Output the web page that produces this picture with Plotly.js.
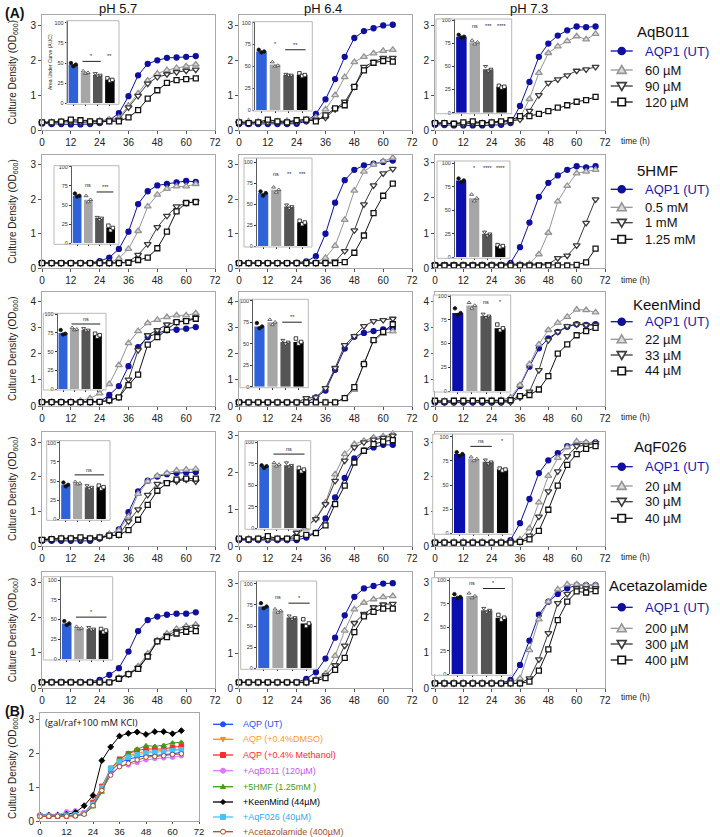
<!DOCTYPE html>
<html>
<head>
<meta charset="utf-8">
<script src="https://cdn.plot.ly/plotly-3.0.1.min.js"></script>
<style>body{margin:0;background:#fff}#fig{width:720px;height:837px}</style>
</head>
<body>
<div id="fig"></div>
<script>
// time points (h)
var hoursA = [0,4,8,12,16,20,24,28,32,36,40,44,48,52,56,60,64];
var hoursB = [0,4,8,12,16,20,24,28,32,36,40,44,48,52,56,60,64,68];

// growth curves: [UT, dose1, dose2, dose3]
var aqb011_ph57 = [
  [0.19,0.17,0.17,0.16,0.16,0.17,0.2,0.28,0.48,0.97,1.57,1.9,2.0,2.07,2.08,2.1,2.12],
  [0.22,0.23,0.25,0.27,0.25,0.25,0.27,0.3,0.35,0.7,1.05,1.42,1.62,1.72,1.78,1.83,1.88],
  [0.2,0.21,0.22,0.24,0.22,0.22,0.24,0.27,0.3,0.65,0.98,1.33,1.52,1.6,1.66,1.7,1.73],
  [0.22,0.22,0.24,0.3,0.28,0.25,0.25,0.25,0.25,0.36,0.57,0.9,1.14,1.35,1.43,1.46,1.48]];
var aqb011_ph64 = [
  [0.17,0.17,0.17,0.17,0.17,0.17,0.18,0.25,0.46,0.88,1.46,2.1,2.64,2.84,2.92,3.0,3.02],
  [0.25,0.25,0.24,0.25,0.25,0.26,0.27,0.3,0.36,0.59,1.0,1.52,1.95,2.1,2.2,2.27,2.3],
  [0.2,0.2,0.2,0.22,0.22,0.22,0.23,0.27,0.3,0.35,0.6,0.81,1.24,1.81,1.95,2.07,2.07],
  [0.22,0.2,0.22,0.3,0.25,0.22,0.28,0.3,0.25,0.42,0.62,0.71,1.24,1.71,1.93,1.98,1.96]];
var aqb011_ph73 = [
  [0.15,0.14,0.13,0.13,0.13,0.13,0.14,0.15,0.2,0.69,1.38,2.1,2.48,2.71,2.86,2.97,2.95,2.97],
  [0.22,0.2,0.18,0.2,0.22,0.2,0.22,0.23,0.25,0.35,0.89,1.64,2.21,2.4,2.55,2.69,2.6,2.76],
  [0.2,0.18,0.18,0.17,0.2,0.2,0.2,0.22,0.25,0.3,0.55,1.0,1.35,1.45,1.57,1.7,1.74,1.81],
  [0.2,0.2,0.18,0.22,0.25,0.2,0.22,0.25,0.28,0.4,0.4,0.46,0.54,0.64,0.71,0.81,0.86,0.95]];

var hmf_ph57 = [
  [0.16,0.15,0.15,0.15,0.15,0.15,0.21,0.31,0.56,1.06,1.86,2.23,2.4,2.44,2.49,2.53,2.5],
  [0.15,0.15,0.15,0.15,0.15,0.15,0.15,0.15,0.29,0.56,1.08,1.79,2.13,2.3,2.37,2.37,2.44],
  [0.15,0.15,0.15,0.15,0.15,0.15,0.15,0.15,0.15,0.19,0.39,0.7,1.19,1.52,1.79,1.89,1.93],
  [0.15,0.15,0.15,0.15,0.15,0.15,0.15,0.15,0.15,0.16,0.24,0.31,0.58,1.06,1.65,1.89,1.92]];
var hmf_ph64 = [
  [0.15,0.15,0.15,0.15,0.15,0.15,0.16,0.2,0.35,1.0,1.9,2.55,2.85,2.98,3.03,3.08,3.12],
  [0.15,0.15,0.15,0.15,0.15,0.15,0.15,0.15,0.18,0.3,0.65,1.4,2.25,2.8,3.0,3.1,3.2],
  [0.15,0.15,0.15,0.15,0.15,0.15,0.15,0.15,0.15,0.15,0.2,0.5,1.1,1.85,2.4,2.75,2.88],
  [0.15,0.15,0.15,0.15,0.15,0.15,0.15,0.15,0.15,0.15,0.15,0.18,0.45,0.95,1.6,2.1,2.45]];
var hmf_ph73 = [
  [0.1,0.1,0.1,0.1,0.1,0.1,0.1,0.1,0.15,0.6,1.3,2.03,2.43,2.64,2.8,2.9,2.87,2.9],
  [0.1,0.1,0.1,0.1,0.1,0.1,0.1,0.1,0.1,0.12,0.13,0.4,1.01,1.9,2.34,2.7,2.75,2.8],
  [0.1,0.1,0.1,0.1,0.1,0.1,0.1,0.1,0.1,0.1,0.1,0.1,0.12,0.29,0.36,0.65,1.29,1.96],
  [0.08,0.08,0.08,0.08,0.08,0.08,0.08,0.08,0.08,0.08,0.08,0.08,0.08,0.08,0.08,0.1,0.17,0.56]];

var keen_ph57 = [
  [0.16,0.16,0.16,0.15,0.15,0.15,0.16,0.42,0.76,1.52,2.25,2.63,2.78,2.89,2.91,2.95,3.01],
  [0.16,0.16,0.16,0.17,0.2,0.29,0.48,0.84,1.56,2.4,2.86,3.16,3.29,3.39,3.46,3.46,3.54],
  [0.15,0.15,0.15,0.15,0.15,0.15,0.16,0.2,0.33,1.01,2.13,2.7,2.89,3.11,3.2,3.27,3.37],
  [0.15,0.15,0.15,0.15,0.15,0.15,0.16,0.22,0.33,0.8,1.2,2.34,2.63,2.91,3.2,3.24,3.33]];
var keen_ph64 = [
  [0.14,0.14,0.14,0.14,0.14,0.14,0.14,0.14,0.33,0.59,1.38,2.19,2.64,2.79,2.86,2.92,2.96],
  [0.14,0.14,0.14,0.14,0.14,0.14,0.14,0.14,0.14,0.14,0.14,0.29,0.62,1.64,2.5,2.75,2.85],
  [0.14,0.14,0.14,0.14,0.14,0.14,0.14,0.3,0.33,0.68,1.45,2.32,2.67,3.05,3.24,3.28,3.33],
  [0.14,0.14,0.14,0.14,0.14,0.14,0.14,0.14,0.14,0.14,0.14,0.3,0.72,1.6,2.51,2.83,3.12]];
var keen_ph73 = [
  [0.13,0.13,0.13,0.13,0.13,0.13,0.13,0.13,0.23,0.76,1.5,2.2,2.58,2.83,3.02,3.12,3.09,3.12],
  [0.2,0.2,0.2,0.2,0.2,0.2,0.22,0.23,0.33,0.8,1.6,2.35,2.9,3.17,3.4,3.68,3.66,3.57],
  [0.15,0.15,0.15,0.15,0.15,0.15,0.15,0.15,0.15,0.33,0.55,1.37,2.51,2.83,3.05,3.12,3.09,3.09],
  [0.2,0.18,0.2,0.2,0.2,0.2,0.2,0.2,0.22,0.38,0.42,0.63,1.14,2.0,2.35,2.7,2.86,2.98]];

var f026_ph57 = [
  [0.15,0.15,0.15,0.15,0.15,0.15,0.22,0.32,0.48,0.98,1.58,1.89,2.01,2.08,2.11,2.13,2.14],
  [0.18,0.2,0.22,0.22,0.22,0.22,0.25,0.35,0.45,0.85,1.51,1.87,2.03,2.11,2.19,2.21,2.23],
  [0.2,0.2,0.2,0.2,0.2,0.2,0.22,0.3,0.32,0.71,1.06,1.48,1.8,1.84,1.87,1.92,1.87],
  [0.18,0.2,0.22,0.22,0.25,0.22,0.25,0.3,0.32,0.46,0.76,1.19,1.6,1.82,1.92,1.95,1.95]];
var f026_ph64 = [
  [0.16,0.16,0.16,0.16,0.16,0.16,0.16,0.23,0.36,0.75,1.32,1.85,2.38,2.59,2.68,2.75,2.75],
  [0.2,0.2,0.2,0.2,0.2,0.2,0.32,0.48,0.75,1.18,1.95,2.5,2.77,2.86,2.95,2.98,3.05],
  [0.18,0.18,0.18,0.18,0.18,0.18,0.36,0.55,0.73,1.14,1.77,2.32,2.68,2.82,2.89,2.94,3.0],
  [0.2,0.18,0.2,0.27,0.2,0.2,0.22,0.3,0.35,0.56,1.14,1.64,2.27,2.59,2.77,2.84,2.88]];
var f026_ph73 = [
  [0.1,0.1,0.1,0.1,0.1,0.1,0.1,0.1,0.17,0.66,1.36,2.11,2.48,2.69,2.89,2.97,2.97,3.0],
  [0.12,0.12,0.12,0.12,0.12,0.12,0.12,0.12,0.12,0.19,0.51,1.26,2.03,2.55,2.86,3.03,3.0,2.98],
  [0.1,0.1,0.1,0.1,0.1,0.1,0.1,0.1,0.1,0.12,0.3,0.85,1.58,2.16,2.6,2.89,2.91,2.98],
  [0.1,0.1,0.1,0.1,0.1,0.1,0.1,0.1,0.1,0.12,0.19,0.44,1.05,1.75,2.35,2.66,2.81,2.89]];

var acz_ph57 = [
  [0.18,0.18,0.18,0.18,0.18,0.18,0.24,0.38,0.57,1.04,1.62,1.93,2.03,2.08,2.11,2.11,2.15],
  [0.17,0.17,0.17,0.17,0.17,0.17,0.17,0.17,0.3,0.42,0.62,0.98,1.36,1.55,1.68,1.76,1.8],
  [0.17,0.17,0.17,0.17,0.17,0.17,0.17,0.17,0.28,0.4,0.58,0.92,1.33,1.5,1.62,1.7,1.74],
  [0.17,0.17,0.17,0.17,0.17,0.17,0.17,0.17,0.27,0.4,0.55,0.9,1.33,1.45,1.55,1.6,1.62]];
var acz_ph64 = [
  [0.17,0.17,0.17,0.17,0.17,0.17,0.17,0.27,0.46,0.85,1.45,2.09,2.62,2.86,2.93,3.0,3.01],
  [0.17,0.17,0.17,0.17,0.17,0.17,0.17,0.17,0.27,0.42,0.93,1.65,2.26,2.45,2.55,2.61,2.64],
  [0.17,0.17,0.17,0.17,0.17,0.17,0.17,0.17,0.25,0.37,0.66,1.22,1.87,2.13,2.32,2.4,2.42],
  [0.17,0.17,0.17,0.17,0.17,0.17,0.17,0.17,0.22,0.29,0.53,0.87,1.61,2.06,2.19,2.28,2.28]];
var acz_ph73 = [
  [0.14,0.14,0.14,0.14,0.14,0.14,0.14,0.14,0.24,0.66,1.35,2.08,2.45,2.67,2.83,2.92,2.92,2.92],
  [0.16,0.16,0.16,0.16,0.16,0.16,0.16,0.16,0.16,0.28,1.08,1.95,2.45,2.8,2.94,2.94,2.92,2.92],
  [0.14,0.14,0.14,0.14,0.14,0.14,0.14,0.14,0.14,0.14,0.28,0.82,1.56,2.41,2.67,2.83,2.83,2.83],
  [0.14,0.14,0.14,0.14,0.14,0.14,0.14,0.14,0.14,0.14,0.19,0.5,1.1,1.93,2.45,2.74,2.71,2.75]];

// inset AUC bars (pH 5.7, 6.4, 7.3)
var auc_aqb011 = [[48,38,35,29],[67,52,40,40],[82,76,47,28]];
var auc_hmf    = [[62,57,33,20],[63,67,47,28],[82,63,25,12]];
var auc_keen   = [[75,80,79,72],[70,75,52,52],[82,90,79,66]];
var auc_f026   = [[45,47,42,42],[72,74,73,68],[82,77,74,66]];
var auc_acz    = [[45,39,38,36],[73,68,60,53],[82,83,68,60]];

// replicate dots on the bars
var rep_aqb011 = [[[50,46,48],[40,37,38],[37,34,35],[31,28,29]],[[69,66,67],[55,50,51],[41,40,40],[42,39,40]],[[84,81,82],[78,74,76],[50,45,47],[29,27,28]]];
var rep_hmf    = [[[65,61,62],[62,54,57],[34,31,33],[23,17,20]],[[65,60,63],[70,64,67],[49,45,47],[30,26,28]],[[84,80,82],[67,60,63],[27,23,25],[13,11,12]]];
var rep_keen   = [[[79,73,74],[82,79,80],[81,78,79],[74,70,72]],[[74,68,70],[78,72,75],[54,50,52],[56,50,52]],[[87,80,82],[93,87,90],[81,77,79],[70,64,66]]];
var rep_f026   = [[[48,43,45],[49,46,47],[44,40,42],[44,40,42]],[[73,70,72],[76,72,74],[76,71,73],[70,66,68]],[[84,80,82],[79,75,77],[76,72,74],[67,65,66]]];
var rep_acz    = [[[48,43,45],[41,38,39],[40,37,38],[38,34,36]],[[77,71,73],[70,66,68],[62,58,60],[58,50,53]],[[85,81,82],[86,81,83],[70,66,68],[63,58,60]]];

// significance marks: [text, first bar, last bar, height, line]
var sig_aqb011 = [[['*',1,2,52,1],['**',3,3,52,0]],[['*',1,1,70,0],['**',2,3,69,1]],[['ns',1,1,88,0],['***',2,2,88,0],['****',3,3,88,0]]];
var sig_hmf    = [[['ns',1,1,70,0],['***',2,3,67,1]],[['ns',1,1,80,0],['**',2,2,80,0],['***',3,3,80,0]],[['*',1,1,90,0],['****',2,2,90,0],['****',3,3,90,0]]];
var sig_keen   = [[['ns',1,3,87,1]],[['**',2,3,75,1]],[['ns',2,2,88,0],['*',3,3,88,0]]];
var sig_f026   = [[['ns',1,3,58,1]],[['ns',1,3,86,1]],[['ns',1,2,90,1],['*',3,3,90,0]]];
var sig_acz    = [[['*',1,3,53,1]],[['ns',1,1,78,0],['*',2,3,77,1]],[['ns',1,1,91,0],['*',2,3,91,1]]];

var drugs = ['AqB011','5HMF','KeenMind','AqF026','Acetazolamide'];
var doses = [['60 µM','90 µM','120 µM'],['0.5 mM','1 mM','1.25 mM'],['22 µM','33 µM','44 µM'],['20 µM','30 µM','40 µM'],['200 µM','300 µM','400 µM']];
var phLabels = ['pH 5.7','pH 6.4','pH 7.3'];

// panel B
var panelB_labels = ['AQP (UT)','AQP (+0.4%DMSO)','AQP (+0.4% Methanol)','+AqB011 (120µM)','+5HMF (1.25mM )','+KeenMind (44µM)','+AqF026 (40µM)','+Acetazolamide (400µM)'];
var panelB_ut   = [0.15,0.15,0.15,0.16,0.17,0.22,0.5,0.98,1.45,1.72,1.82,1.88,1.92,1.93,1.95,1.98,2.02];
var panelB_dmso = [0.14,0.14,0.14,0.15,0.16,0.22,0.52,1.0,1.5,1.78,1.92,2.0,2.05,2.06,2.07,2.1,2.12];
var panelB_meoh = [0.15,0.14,0.14,0.15,0.16,0.23,0.55,1.02,1.55,1.82,1.98,2.08,2.12,2.12,2.12,2.17,2.2];
var panelB_aqb  = [0.18,0.18,0.18,0.27,0.3,0.25,0.5,0.92,1.38,1.6,1.65,1.72,1.8,1.84,1.86,1.88,1.92];
var panelB_hmf  = [0.16,0.15,0.15,0.15,0.16,0.2,0.42,0.85,1.5,1.82,2.0,2.12,2.22,2.2,2.23,2.3,2.32];
var panelB_keen = [0.17,0.17,0.17,0.2,0.25,0.45,0.75,1.78,2.18,2.5,2.58,2.62,2.55,2.63,2.63,2.57,2.66];
var panelB_f026 = [0.16,0.16,0.16,0.17,0.18,0.22,0.48,0.98,1.55,1.75,1.88,1.95,2.0,2.02,2.05,2.07,2.1];
var panelB_acz  = [0.14,0.14,0.14,0.14,0.15,0.2,0.45,0.9,1.35,1.6,1.7,1.8,1.88,1.9,1.92,1.96,1.98];
var panelB_utErr = [0,0,0,0,0,0,0.03,0.05,0.1,0.06,0.08,0.1,0.1,0.1,0.1,0.12,0.1];

var curves = [[aqb011_ph57,aqb011_ph64,aqb011_ph73],[hmf_ph57,hmf_ph64,hmf_ph73],[keen_ph57,keen_ph64,keen_ph73],[f026_ph57,f026_ph64,f026_ph73],[acz_ph57,acz_ph64,acz_ph73]];
var aucs = [auc_aqb011,auc_hmf,auc_keen,auc_f026,auc_acz];
var reps = [rep_aqb011,rep_hmf,rep_keen,rep_f026,rep_acz];
var sigs = [sig_aqb011,sig_hmf,sig_keen,sig_f026,sig_acz];
var panelB = [panelB_ut,panelB_dmso,panelB_meoh,panelB_aqb,panelB_hmf,panelB_keen,panelB_f026,panelB_acz];

// ---- geometry (pixels) ----
var W = 720, H = 837;
function fx(p) { return p / W; }
function fy(p) { return 1 - p / H; }
var FONT = 'Arial, "Liberation Sans", sans-serif';

var colX = [[42,215],[239,412],[435,605]];
var rowY = [[15,130],[155,268.3],[292,406],[432,546],[572,688.3]];
var yTop = [[3.3,3.3,3.3],[3.28,3.28,3.22],[4.35,4.35,4.35],[3.3,3.1,3.3],[3.29,3.33,3.29]];
// inset box: left, right, top, baseline, y-axis x, y of 100
var insetBox = [
  [[66.7,119,20.7,103.3,66.7,22.7],[252.7,312.3,21.7,110,254,22.7],[436,511.7,19,112.7,454,20]],
  [[54,119,165.7,243.3,71,166.7],[244,312,158,246,256,162],[437,510,161,257.3,454,163.5]],
  [[43.3,106,313.3,389,56.7,314.3],[240,308.3,299.3,386.7,252.3,300.7],[433.3,510.7,295,391,450,296]],
  [[46.7,110,440.7,519.3,59.3,442.7],[245,310.7,440.7,528.3,257.3,442],[432.7,513.3,434,533.3,451.7,436.7]],
  [[43.3,112.7,576.7,659,60,580],[240.7,316.7,581,668.3,256,583.7],[431.7,512.3,577.7,674.3,449.3,580]]];
var timeLabelY = [140.7, 280, 416.7, 557.3, 696.7];
var legTitleXY = [[663,32],[657,170],[667,304],[660,446],[658,585]];
var legRowY = [[51,70,86,102],[189.3,207.3,222.7,239.3],[321.7,339.3,355,371],[466.7,486,501.7,518.3],[607.3,628.3,644,660]];
var legBRowY = [724.3,739.3,755,770.7,786.7,802,817,831.7];

var series = [
  {color:'#10109e', fill:'#10109e', symbol:'circle', size:5, key:7},
  {color:'#959595', fill:'#dcdcdc', symbol:'triangle-up', size:6, key:9},
  {color:'#3a3a3a', fill:'#ffffff', symbol:'triangle-down', size:6, key:9},
  {color:'#111111', fill:'#ffffff', symbol:'square', size:5, key:7.5}];

var traces = [], shapes = [], annotations = [];
var layout = {
  width: W, height: H,
  margin: {l:0, r:0, t:0, b:0, pad:0},
  paper_bgcolor: '#ffffff', plot_bgcolor: '#ffffff',
  font: {family: FONT, size: 10, color: '#222'},
  showlegend: false,
  shapes: shapes, annotations: annotations
};

var mainAxis = {showline:true, mirror:true, linecolor:'#a8a8a8', linewidth:1, ticks:'outside', ticklen:3,
  tickcolor:'#555', tickfont:{size:10, color:'#222'}, showgrid:false, zeroline:false, fixedrange:true};
function ax(extra) { return Object.assign({}, mainAxis, extra); }
function sid(n) { return n === 1 ? '' : String(n); }
function label(x, y, text, size, extra) {
  annotations.push(Object.assign({xref:'paper', yref:'paper', x:fx(x), y:fy(y), xanchor:'center', yanchor:'middle',
    text:text, showarrow:false, font:{size:size, color:'#111'}}, extra || {}));
}
// legend key marker drawn as a shape, centred at pixel (cx, cy)
function keyMarker(sym, cx, cy, s, fill, lc, lw) {
  var h = s / 2;
  var base = {xref:'paper', yref:'paper', fillcolor:fill, line:{color:lc, width:lw}, layer:'above'};
  if (sym === 'circle') return Object.assign(base, {type:'circle', x0:fx(cx - h), x1:fx(cx + h), y0:fy(cy + h), y1:fy(cy - h)});
  if (sym === 'square') return Object.assign(base, {type:'rect', x0:fx(cx - h), x1:fx(cx + h), y0:fy(cy + h), y1:fy(cy - h)});
  var pts;
  if (sym === 'triangle-up') pts = [[cx, cy - h], [cx + h, cy + h * 0.75], [cx - h, cy + h * 0.75]];
  else if (sym === 'triangle-down') pts = [[cx, cy + h], [cx + h, cy - h * 0.75], [cx - h, cy - h * 0.75]];
  else pts = [[cx, cy - h], [cx + h, cy], [cx, cy + h], [cx - h, cy]];
  var path = 'M' + pts.map(function (p) { return fx(p[0]) + ',' + fy(p[1]); }).join('L') + 'Z';
  return Object.assign(base, {type:'path', path:path});
}
function keyLine(x0, x1, y, color) {
  shapes.push({type:'line', xref:'paper', yref:'paper', x0:fx(x0), x1:fx(x1), y0:fy(y), y1:fy(y),
    line:{color:color, width:1.3}, layer:'above'});
}

// main growth panels
for (var r = 0; r < 5; r++) {
  for (var c = 0; c < 3; c++) {
    var n = r * 3 + c + 1, id = sid(n);
    layout['xaxis' + id] = ax({domain:[fx(colX[c][0]), fx(colX[c][1])], range:[0,72], tickvals:[0,12,24,36,48,60,72], anchor:'y' + id});
    layout['yaxis' + id] = ax({domain:[fy(rowY[r][1]), fy(rowY[r][0])], range:[0, yTop[r][c]], tick0:0, dtick:1, anchor:'x' + id});
    var hrs = c === 2 ? hoursB : hoursA;
    curves[r][c].forEach(function (ys, s) {
      var st = series[s];
      traces.push({
        type:'scatter', mode:'lines+markers', x:hrs, y:ys, xaxis:'x' + id, yaxis:'y' + id,
        cliponaxis:false, hoverinfo:'skip', showlegend:false,
        line:{color:st.color, width:1},
        marker:{symbol:st.symbol, size:st.size, color:st.fill, line:{color:st.color, width:1.3}}
      });
    });
  }
  // legend for this row
  label(legTitleXY[r][0], legTitleXY[r][1], drugs[r], 15);
  for (var s = 0; s < 4; s++) {
    var st = series[s], ly = legRowY[r][s];
    keyLine(610.7, 632.7, ly, st.color);
    shapes.push(keyMarker(st.symbol, 621.7, ly, st.key, st.fill, st.color, 1.6));
    label(643, ly, s === 0 ? 'AQP1 (UT)' : doses[r][s - 1], 13,
      {xanchor:'left', font:{size:13, color: s === 0 ? '#1a1aa6' : '#111'}});
  }
  label(619, timeLabelY[r], 'time (h)', 8.5, {xanchor:'left', font:{size:8.5, color:'#222'}});
  label(13, (rowY[r][0] + rowY[r][1]) / 2, 'Culture Density (OD<sub>600</sub>)', 10, {textangle:-90, font:{size:10, color:'#222'}});
}

// inset bar charts
var barColors = [['#2f62d8','#a6a6a6','#555555','#050505'],['#2f62d8','#a6a6a6','#555555','#050505'],['#0b0fae','#a6a6a6','#555555','#050505']];
var repSym = ['circle','triangle-up','triangle-down','square'];
var repFill = ['#111111','#ffffff','#ffffff','#ffffff'];
var repLine = ['#111111','#444444','#222222','#111111'];
var jit = [-0.2, 0, 0.2];
for (var r2 = 0; r2 < 5; r2++) {
  for (var c2 = 0; c2 < 3; c2++) {
    var b = insetBox[r2][c2];
    var L = b[0], R = b[1], T = b[2], B = b[3], AX = b[4], Y100 = b[5];
    var n2 = 16 + r2 * 3 + c2, id2 = String(n2);
    var u = (R - AX) / 4.3;
    var lo = -0.55 - (AX - L) / u;
    var k = (B - Y100) / 100;
    layout['xaxis' + id2] = {domain:[fx(L), fx(R)], range:[lo, 3.75], anchor:'y' + id2, showline:false,
      tickvals:[0,1,2,3], ticks:'outside', ticklen:2, tickcolor:'#333', showticklabels:false,
      showgrid:false, zeroline:false, fixedrange:true};
    layout['yaxis' + id2] = {domain:[fy(B), fy(T)], range:[0, (B - T) / k], anchor:'free', position:fx(AX),
      showline:true, linecolor:'#333', linewidth:0.8, tickvals:[0,25,50,75,100], ticks:'outside', ticklen:2,
      tickcolor:'#333', tickfont:{size:5.5, color:'#333'}, showgrid:false, zeroline:false, fixedrange:true};
    traces.push({type:'bar', x:[0,1,2,3], y:aucs[r2][c2], width:0.78, xaxis:'x' + id2, yaxis:'y' + id2,
      marker:{color:barColors[c2]}, showlegend:false, hoverinfo:'skip'});
    var rx = [], ry = [], rs = [], rf = [], rl = [];
    reps[r2][c2].forEach(function (vals, i) {
      vals.forEach(function (v, j) {
        rx.push(i + jit[j]); ry.push(v); rs.push(repSym[i]); rf.push(repFill[i]); rl.push(repLine[i]);
      });
    });
    traces.push({type:'scatter', mode:'markers', x:rx, y:ry, xaxis:'x' + id2, yaxis:'y' + id2, cliponaxis:false,
      marker:{symbol:rs, size:3.5, color:rf, line:{color:rl, width:0.8}}, showlegend:false, hoverinfo:'skip'});
    sigs[r2][c2].forEach(function (sg) {
      annotations.push({xref:'x' + id2, yref:'y' + id2, x:(sg[1] + sg[2]) / 2, y:sg[3], text:sg[0], showarrow:false,
        xanchor:'center', yanchor:'bottom', font:{size:5.5, color:'#222'}});
      if (sg[4]) shapes.push({type:'line', xref:'x' + id2, yref:'y' + id2, x0:sg[1] - 0.25, x1:sg[2] + 0.25,
        y0:sg[3], y1:sg[3], line:{color:'#222', width:1}});
    });
    shapes.push({type:'rect', xref:'paper', yref:'paper', x0:fx(L), x1:fx(R), y0:fy(B + 1), y1:fy(T),
      line:{color:'#b8b8b8', width:1}, fillcolor:'rgba(0,0,0,0)', layer:'above'});
  }
}
label(50, 62, 'Area Under Curve (AUC)', 5, {textangle:-90, font:{size:5, color:'#222'}});

// panel B
var bColors = ['#1f4fff','#ff8c1a','#ff2a2a','#dd77ff','#3f9a1a','#000000','#44c4ff','#a0522d'];
var bText = ['#1f4fff','#ff9a2a','#ff2a2a','#cc55ee','#3f9a1a','#000000','#33aaee','#a0522d'];
var bSym = ['circle','triangle-down','square','circle','triangle-up','diamond','square','circle'];
var bFill = ['#1f4fff','#ff8c1a','#ff2a2a','#dd77ff','#3f9a1a','#000000','#44c4ff','#ffffff'];
layout.xaxis31 = ax({domain:[fx(40), fx(199)], range:[0,72], tickvals:[0,12,24,36,48,60,72], anchor:'y31',
  ticklen:2, tickfont:{size:9.5, color:'#222'}});
layout.yaxis31 = ax({domain:[fy(821), fy(713)], range:[0,3.18], tick0:0, dtick:1, anchor:'x31'});
panelB.forEach(function (ys, i) {
  var t = {type:'scatter', mode:'lines+markers', x:hoursA, y:ys, xaxis:'x31', yaxis:'y31', cliponaxis:false,
    line:{color:bColors[i], width:1}, marker:{symbol:bSym[i], size:4.5, color:bFill[i], line:{color:bColors[i], width:1}},
    showlegend:false, hoverinfo:'skip'};
  if (i === 0) t.error_y = {type:'data', array:panelB_utErr, color:bColors[i], thickness:1, width:2};
  traces.push(t);
  keyLine(213, 233, legBRowY[i], bColors[i]);
  shapes.push(keyMarker(bSym[i], 223, legBRowY[i], 5, bFill[i], bColors[i], 1));
  label(241, legBRowY[i], panelB_labels[i], 9, {xanchor:'left', font:{size:9, color:bText[i]}});
});
label(13, 767, 'Culture Density (OD<sub>600</sub>)', 10, {textangle:-90, font:{size:10, color:'#222'}});
label(43, 722, '(gal/raf+100 mM KCl)', 9.5, {xanchor:'left', font:{family:'"Open Sans", sans-serif', size:9.5, color:'#111'}});

// titles and panel letters
var phX = [117.5, 323, 529];
phLabels.forEach(function (t, i) { label(phX[i], 8.5, t, 13); });
label(3, 13, '<b>(A)</b>', 14, {xanchor:'left'});
label(3, 711, '<b>(B)</b>', 14, {xanchor:'left'});

Plotly.newPlot('fig', traces, layout, {staticPlot:true, displayModeBar:false});
</script>
</body>
</html>
